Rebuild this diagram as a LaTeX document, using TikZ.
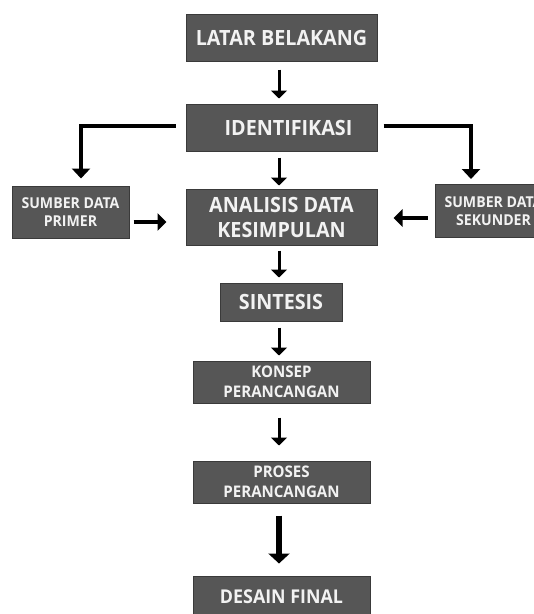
\documentclass[tikz,border=0pt]{standalone}
\usepackage{fontspec}
\setmainfont{Open Sans}[FakeStretch=0.94]
\usetikzlibrary{arrows.meta}
\definecolor{boxfill}{HTML}{565656}
\definecolor{boxline}{HTML}{3A3A3A}
\definecolor{boxtext}{HTML}{F2F2F2}
\tikzset{
  box/.style={draw=boxline, line width=1pt, fill=boxfill, text=boxtext,
    font=\bfseries, align=center, inner sep=0pt, anchor=center},
  bigtxt/.style={font=\bfseries\fontsize{21}{25}\selectfont},
  midtxt/.style={font=\bfseries\fontsize{21}{25}\selectfont},
  smalltxt/.style={font=\bfseries\fontsize{16}{20}\selectfont},
  tinytxt/.style={font=\bfseries\fontsize{15}{18}\selectfont},
  fintxt/.style={font=\bfseries\fontsize{19}{23}\selectfont},
  arr/.style={line width=3pt, -{Triangle[width=16pt,length=8pt]}},
  branch/.style={line width=4pt, -{Triangle[width=18pt,length=10pt]}},
  side/.style={line width=4pt, -{Triangle[width=17pt,length=9pt]}},
  bigarr/.style={line width=6pt, -{Triangle[width=21pt,length=10pt]}}
}
\begin{document}
\begin{tikzpicture}[x=1pt,y=-1pt]
\clip (0,0) rectangle (534,614);
\fill[white] (0,0) rectangle (534,614);

\node[box,bigtxt,minimum width=191pt,minimum height=47pt] (latar) at (281.5,37.5) {LATAR BELAKANG};
\node[box,bigtxt,minimum width=191pt,minimum height=47pt] (ident) at (281.5,127.5) {\hspace*{14pt}IDENTIFIKASI};
\node[box,bigtxt,minimum width=191pt,minimum height=56pt] (analisis) at (281.5,217) {ANALISIS DATA\\KESIMPULAN};
\node[box,tinytxt,minimum width=117pt,minimum height=52pt] (primer) at (70.5,212) {SUMBER DATA\\PRIMER};
\node[box,tinytxt,minimum width=117pt,minimum height=53pt] (sekunder) at (493.5,211) {SUMBER DATA\\SEKUNDER};
\node[box,midtxt,minimum width=122pt,minimum height=38pt] (sintesis) at (281,302) {SINTESIS};
\node[box,smalltxt,minimum width=177pt,minimum height=42pt] (konsep) at (281.5,382) {KONSEP\\PERANCANGAN};
\node[box,smalltxt,minimum width=177pt,minimum height=42pt] (proses) at (281.5,482) {PROSES\\PERANCANGAN};
\node[box,fintxt,minimum width=177pt,minimum height=42pt] (desain) at (281.5,597) {DESAIN FINAL};

\draw[arr] ([xshift=-2.5pt,yshift=-8pt]latar.south) -- ([xshift=-2.5pt,yshift=5pt]ident.north);
\draw[arr] ([xshift=-2.5pt,yshift=-6pt]ident.south) -- ([xshift=-2.5pt,yshift=3pt]analisis.north);
\draw[arr] ([xshift=-2.5pt,yshift=-5pt]analisis.south) -- ([xshift=-2pt,yshift=5pt]sintesis.north);
\draw[arr] ([xshift=-2pt,yshift=-6pt]sintesis.south) -- ([xshift=-2.5pt,yshift=5pt]konsep.north);
\draw[arr] ([xshift=-2.5pt,yshift=-14pt]konsep.south) -- ([xshift=-2.5pt,yshift=15pt]proses.north);
\draw[bigarr] ([xshift=-2.5pt,yshift=-12pt]proses.south) -- ([xshift=-2.5pt,yshift=12pt]desain.north);

\draw[branch] ([xshift=-10pt,yshift=1.5pt]ident.west) -| ([xshift=10.5pt,yshift=7pt]primer.north);
\draw[branch] ([xshift=6pt,yshift=1.5pt]ident.east) -| ([xshift=-22.5pt,yshift=5pt]sekunder.north);

\draw[side] ([xshift=4pt,yshift=-10pt]primer.east) -- ([xshift=-19pt,yshift=-5pt]analisis.west);
\draw[side] ([xshift=-7pt,yshift=-7pt]sekunder.west) -- ([xshift=16pt,yshift=-1pt]analisis.east);
\end{tikzpicture}
\end{document}
